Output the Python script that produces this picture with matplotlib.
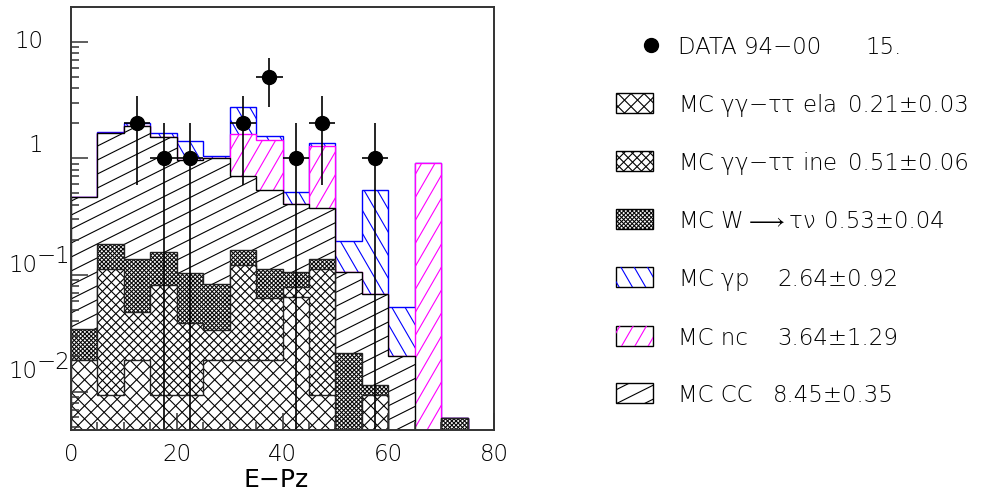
import numpy as np
import matplotlib
matplotlib.use("Agg")
import matplotlib.pyplot as plt
from matplotlib.collections import LineCollection
from matplotlib.patches import Rectangle
from matplotlib.lines import Line2D
from matplotlib.transforms import IdentityTransform
from matplotlib.ticker import FixedLocator, NullFormatter, LogLocator, MultipleLocator

plt.rcParams['font.family'] = ['DejaVu Sans']
plt.rcParams['font.weight'] = 'light'
plt.rcParams['mathtext.fontset'] = 'custom'
plt.rcParams['mathtext.rm'] = 'DejaVu Sans:light'
plt.rcParams['mathtext.it'] = 'DejaVu Sans:light'
plt.rcParams['mathtext.sf'] = 'DejaVu Sans:light'

# ---------------- data ----------------
bin_edges = np.arange(0, 85, 5)
mc_gg_ela  = [0.0186, 0.0093, 0.0186, 0.0093, 0.0093, 0.0186, 0.0186, 0.0186,
              0.065, 0.0093, 0.0, 0.0093, 0.0, 0.0, 0.0, 0.0]
mc_gg_ine  = [0.0, 0.1024, 0.0292, 0.0726, 0.0292, 0.0151, 0.103, 0.0444,
              0.0142, 0.1024, 0.0, 0.0, 0.0, 0.0, 0.0, 0.0]
mc_w_taunu = [0.0158, 0.0713, 0.0883, 0.0743, 0.0647, 0.0499, 0.0418, 0.0487,
              0.0274, 0.0252, 0.0215, 0.0021, 0.0, 0.0, 0.0059, 0.0]
mc_cc      = [0.427, 1.465, 1.756, 1.352, 0.864, 0.916, 0.542, 0.423,
              0.297, 0.236, 0.085, 0.057, 0.020, 0.0, 0.0, 0.0]
mc_nc      = [0.0, 0.0, 0.0, 0.0, 0.0, 0.0, 0.911, 0.900,
              0.0, 0.908, 0.0, 0.0, 0.0, 0.911, 0.0, 0.0]
mc_gp      = [0.0, 0.023, 0.096, 0.124, 0.432, 0.040, 1.121, 0.118,
              0.106, 0.067, 0.089, 0.463, 0.033, 0.0, 0.0, 0.0]
data_counts = [0, 0, 2, 1, 1, 0, 2, 5, 1, 2, 0, 1, 0, 0, 0, 0]

legend_labels = ["DATA 94\u221200",
                 r"MC $\gamma\gamma$" + "\u2212" + r"$\tau\tau$ ela",
                 r"MC $\gamma\gamma$" + "\u2212" + r"$\tau\tau$ ine",
                 r"MC W$\longrightarrow\tau\nu$",
                 r"MC $\gamma$p",
                 "MC nc",
                 "MC CC"]
legend_values = ["15.", "0.21\u00b10.03", "0.51\u00b10.06", "0.53\u00b10.04",
                 "2.64\u00b10.92", "3.64\u00b11.29", "8.45\u00b10.35"]

x_ticks = [0, 20, 40, 60, 80]
y_ticks = [0.01, 0.1, 1, 10]
x_label = "E\u2212Pz"

# ---------------- layout ----------------
FIG_W, FIG_H, DPI = 1005, 494, 100
AX_L, AX_R, AX_T, AX_B = 71, 494, 6.7, 430
FS = 16.5
PX2PT = 72.0 / DPI

fig = plt.figure(figsize=(FIG_W / DPI, FIG_H / DPI), dpi=DPI)
ax = fig.add_axes([AX_L / FIG_W, 1 - AX_B / FIG_H,
                   (AX_R - AX_L) / FIG_W, (AX_B - AX_T) / FIG_H])
ax.set_yscale('log')


def hatch_segments(specs):
    segs = []
    R = np.hypot(FIG_W, FIG_H)
    for ang, sp in specs:
        th = np.deg2rad(ang)
        d = np.array([np.cos(th), np.sin(th)])
        n = np.array([-np.sin(th), np.cos(th)])
        for c in np.arange(-R, R + sp, sp):
            segs.append([c * n - 2 * R * d, c * n + 2 * R * d])
    return segs


# styles: (hatch specs [angle, spacing px], hatch colour, outline colour)
styles = {
    'ela': ([(45, 9.2), (-45, 9.2)], 'black', '#222222'),
    'ine': ([(45, 6.3), (-45, 6.3)], 'black', '#222222'),
    'w':   ([(45, 3.0), (-45, 3.0)], 'black', '#222222'),
    'cc':  ([(26.57, 12.5)], 'black', 'black'),
    'nc':  ([(60, 11.5)], '#ff00ff', '#ff00ff'),
    'gp':  ([(-60, 11.5)], '#0000ff', '#0000ff'),
}
stack = [('ela', mc_gg_ela), ('ine', mc_gg_ine), ('w', mc_w_taunu),
         ('cc', mc_cc), ('nc', mc_nc), ('gp', mc_gp)]
cum = np.cumsum([np.asarray(v, float) for _, v in stack], axis=0)
FLOOR = 1e-4

z = 2.0
for k in reversed(range(len(stack))):
    key = stack[k][0]
    specs, hc, ec = styles[key]
    vals = np.maximum(cum[k], FLOOR)
    fillp = ax.stairs(vals, bin_edges, baseline=FLOOR, fill=True,
                      facecolor='white', edgecolor='none', linewidth=0, zorder=z)
    lc = LineCollection(hatch_segments(specs), colors=hc, linewidths=0.8,
                        transform=IdentityTransform(), zorder=z + 0.1)
    lc.set_clip_path(fillp)
    ax.add_collection(lc, autolim=False)
    lc.set_clip_box(ax.bbox)
    ax.stairs(vals, bin_edges, baseline=FLOOR, fill=False, color=ec,
              linewidth=1.0, zorder=z + 0.2)
    z += 1.0

# data points
centers = 0.5 * (bin_edges[:-1] + bin_edges[1:])
halfw = 0.5 * np.diff(bin_edges)
counts = np.asarray(data_counts, float)
m = counts > 0
ax.errorbar(centers[m], counts[m], xerr=halfw[m], yerr=np.sqrt(counts[m]),
            fmt='o', ms=10, color='black', ecolor='black', elinewidth=1.2,
            capsize=0, zorder=50)

ax.set_xlim(0, 80)
ax.set_ylim(10 ** -2.33, 10 ** 1.30)

for sp in ax.spines.values():
    sp.set_linewidth(1.4)
    sp.set_color('#333333')
    sp.set_zorder(70)
ax.xaxis.set_zorder(65)
ax.yaxis.set_zorder(65)

ax.xaxis.set_major_locator(FixedLocator(x_ticks))
ax.xaxis.set_minor_locator(MultipleLocator(5))
ax.yaxis.set_major_locator(FixedLocator(y_ticks))
ax.yaxis.set_minor_locator(LogLocator(base=10, subs=np.arange(2, 10), numticks=20))
ax.yaxis.set_major_formatter(NullFormatter())
ax.yaxis.set_minor_formatter(NullFormatter())
ax.tick_params(which='major', direction='in', length=17 * PX2PT, width=1.1,
               color='#333333', top=False, right=False)
ax.tick_params(which='minor', direction='in', length=8 * PX2PT, width=1.1,
               color='#333333', top=False, right=False)
ax.tick_params(axis='x', labelsize=FS, pad=13 * PX2PT)
ax.set_xticklabels([str(t) for t in x_ticks])

# y tick labels drawn PAW-style (full size exponents)
y_label_lift_px = [20, 9, 13, 0]
for v, lift in zip(y_ticks, y_label_lift_px):
    e = int(round(np.log10(v)))
    if e in (0, 1):
        ax.annotate(f"{v:g}", xy=(0, v), xycoords=('axes fraction', 'data'),
                    xytext=((43 - AX_L) * PX2PT, lift * PX2PT),
                    textcoords='offset points', ha='right', va='center',
                    fontsize=FS)
    else:
        ax.annotate("10", xy=(0, v), xycoords=('axes fraction', 'data'),
                    xytext=((37 - AX_L) * PX2PT, lift * PX2PT),
                    textcoords='offset points', ha='right', va='center',
                    fontsize=FS)
        ax.annotate("\u2212" + str(-e), xy=(0, v), xycoords=('axes fraction', 'data'),
                    xytext=((37 - AX_L) * PX2PT, (lift + 9) * PX2PT),
                    textcoords='offset points', ha='left', va='center',
                    fontsize=FS)

ax.set_xlabel(x_label, fontsize=18)
ax.xaxis.set_label_coords((276 - AX_L) / (AX_R - AX_L), (AX_B - 468) / (AX_B - AX_T))

# ---------------- legend ----------------
row_y = [45, 103, 161, 219, 277, 336, 393]
label_x = 678
value_x = [865, 848, 848, 824, 777, 777, 773]
box_x0, box_w, box_h = 616, 37, 20
marker_x = 651
legend_keys = [None, 'ela', 'ine', 'w', 'gp', 'nc', 'cc']

for i, (lab, val, key) in enumerate(zip(legend_labels, legend_values, legend_keys)):
    yb = FIG_H - (row_y[i] + 8.5)
    fig.text(label_x, yb, lab, transform=IdentityTransform(), ha='left',
             va='baseline', fontsize=FS)
    fig.text(value_x[i], yb, val, transform=IdentityTransform(), ha='left',
             va='baseline', fontsize=FS)
    yc = FIG_H - row_y[i]
    if key is None:
        fig.add_artist(Line2D([marker_x], [yc], marker='o', ms=10, color='black',
                              linestyle='none', transform=IdentityTransform()))
    else:
        specs, hc, ec = styles[key]
        rect = Rectangle((box_x0, yc - box_h / 2), box_w, box_h,
                         transform=IdentityTransform(), facecolor='white',
                         edgecolor='none')
        fig.add_artist(rect)
        lc = LineCollection(hatch_segments(specs), colors=hc, linewidths=0.8,
                            transform=IdentityTransform())
        lc.set_clip_path(rect)
        fig.add_artist(lc)
        fig.add_artist(Rectangle((box_x0, yc - box_h / 2), box_w, box_h,
                                 transform=IdentityTransform(), fill=False,
                                 edgecolor='black', linewidth=1.0))

fig.savefig("out.png", dpi=DPI)
